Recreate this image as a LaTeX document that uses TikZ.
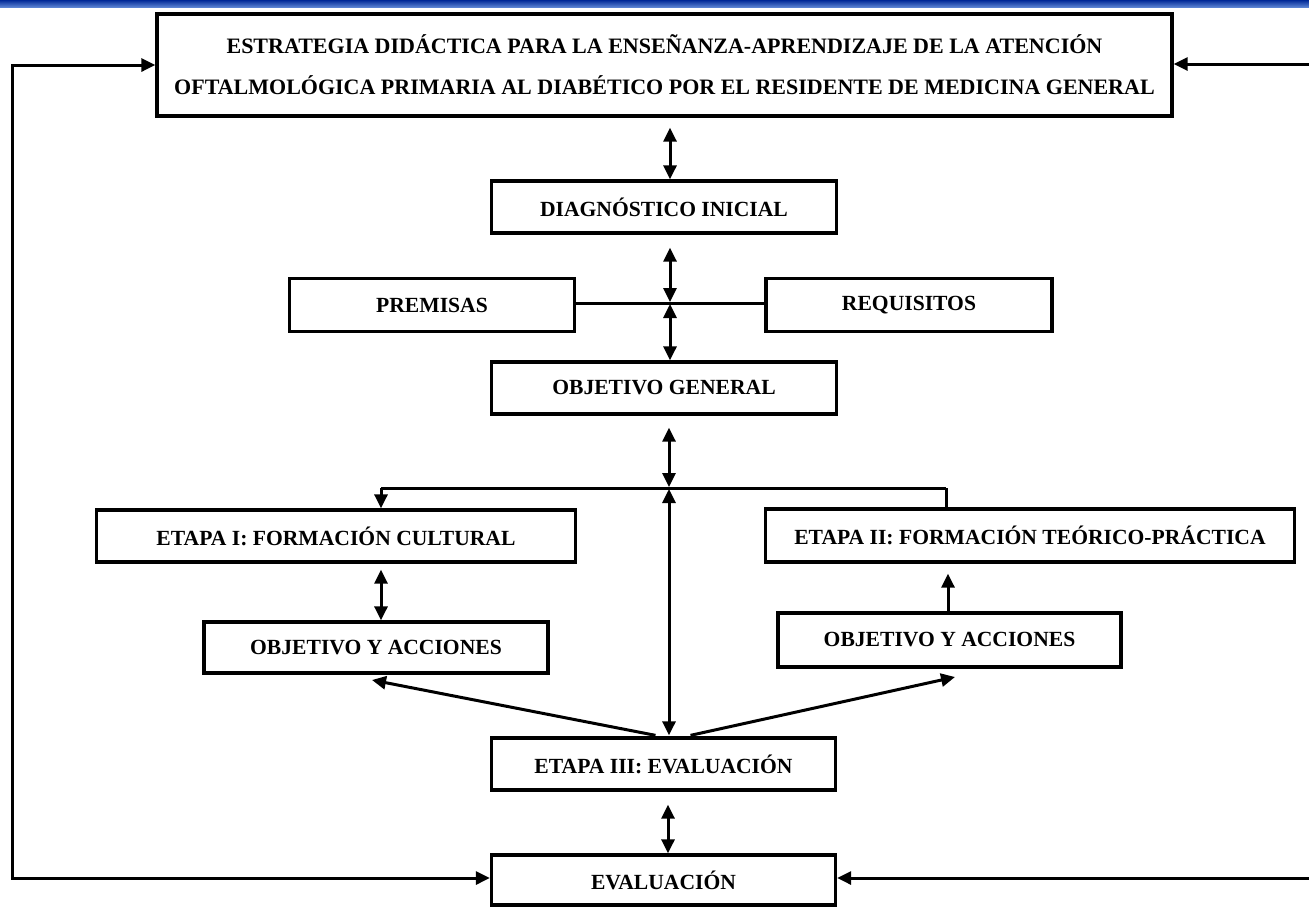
\documentclass[tikz,border=0pt]{standalone}
\usepackage{fontspec}
\setmainfont{Liberation Serif}
\usetikzlibrary{arrows.meta,calc}
\definecolor{bandtop}{RGB}{0,40,150}
\definecolor{bandbot}{RGB}{90,130,210}
\begin{document}
\begin{tikzpicture}[x=1pt,y=-1pt,
  box/.style={draw, line width=3.3pt, fill=white, inner sep=0pt, font=\fontsize{21.6}{26}\selectfont\bfseries},
  conn/.style={line width=3pt},
  arr/.style={conn,-{Triangle[length=14pt,width=13pt]}},
  darr/.style={conn,{Triangle[length=14pt,width=13pt]}-{Triangle[length=14pt,width=13pt]}}]
\useasboundingbox (0,0) rectangle (1309,906);
\shade[top color=bandtop, bottom color=bandbot] (0,0) rectangle (1309,7);

\node[box, minimum width=1015pt, minimum height=102pt, align=center, font=\fontsize{22}{41}\selectfont\bfseries] (top) at (664.5,65)
  {ESTRATEGIA DIDÁCTICA PARA LA ENSEÑANZA-APRENDIZAJE DE LA ATENCIÓN\\OFTALMOLÓGICA PRIMARIA AL DIABÉTICO POR EL RESIDENTE DE MEDICINA GENERAL};
\node[box, minimum width=345pt, minimum height=52pt] (diag) at (664,207) {DIAGNÓSTICO INICIAL};
\node[box, minimum width=285pt, minimum height=53pt] (prem) at (432,305) {PREMISAS};
\node[box, minimum width=286pt, minimum height=53pt] (req) at (909,305) {REQUISITOS};
\node[box, minimum width=345pt, minimum height=52pt] (objg) at (664,388) {OBJETIVO GENERAL};
\node[box, minimum width=479pt, minimum height=52pt] (et1) at (336,536) {ETAPA I: FORMACIÓN CULTURAL};
\node[box, minimum width=529pt, minimum height=53pt] (et2) at (1030,535.5) {ETAPA II: FORMACIÓN TEÓRICO-PRÁCTICA};
\node[box, minimum width=344pt, minimum height=51pt] (oa1) at (376,647.5) {OBJETIVO Y ACCIONES};
\node[box, minimum width=343pt, minimum height=54pt] (oa2) at (949.5,640) {OBJETIVO Y ACCIONES};
\node[box, minimum width=344pt, minimum height=52pt] (et3) at (663.5,764) {ETAPA III: EVALUACIÓN};
\node[box, minimum width=344pt, minimum height=50pt] (ev) at (663.5,880) {EVALUACIÓN};

\coordinate (J1) at (670,303);
\coordinate (J2) at (669,488);
\coordinate (J2l) at (381,488);
\coordinate (J2r) at (946,488);
\coordinate (L1) at (12,65);
\coordinate (L2) at (12,878);
\coordinate (R1) at (1309,64);
\coordinate (R2) at (1309,878);

% top <-> diagnostico
\draw[darr] ($(top.south)+(5.5,10)$) -- (diag.north -| J1);
% diagnostico <-> junction, junction <-> objetivo general
\draw[conn] (prem.east |- J1) -- (req.west |- J1);
\draw[darr] ($(diag.south -| J1)+(0,13)$) -- ($(J1)+(0,-1)$);
\draw[darr] ($(J1)+(0,1)$) -- (objg.north -| J1);
% objetivo general <-> branch
\draw[darr] ($(objg.south -| J2)+(0,12)$) -- ($(J2)+(0,-1)$);
\draw[conn] (J2l) -- (J2r);
\draw[arr] (J2l) -- (et1.north -| J2l);
\draw[conn] (J2r) -- (et2.north -| J2r);
\draw[darr] ($(J2)+(0,1)$) -- ($(et3.north -| J2)+(0,-1)$);
% etapa I <-> objetivo y acciones
\draw[darr] ($(et1.south -| J2l)+(0,6)$) -- (oa1.north -| J2l);
% objetivo y acciones -> etapa II
\draw[arr] (oa2.north -| 948,0) -- ($(et2.south -| 948,0)+(0,10)$);
% diagonals from etapa III
\coordinate (D1) at (372,680);
\coordinate (D2) at (955,677);
\draw[arr] ($(et3.north)+(-8,-1)$) -- (D1);
\draw[arr] ($(et3.north)+(27,-1)$) -- (D2);
% etapa III <-> evaluacion
\draw[darr] ($(et3.south -| 668,0)+(0,13)$) -- (ev.north -| 668,0);
% feedback loops
\draw[darr, line join=miter] (top.west |- L1) -- (L1) -- (L2) -- (ev.west |- L2);
\draw[arr] (R1) -- (top.east |- R1);
\draw[arr] (R2) -- (ev.east |- R2);
\end{tikzpicture}
\end{document}
